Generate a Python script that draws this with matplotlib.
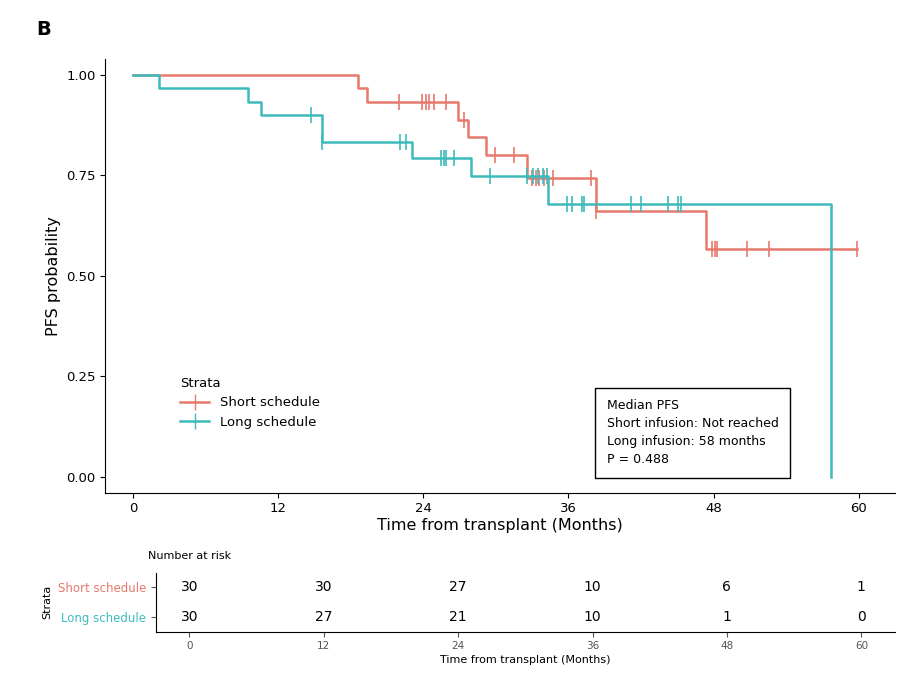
import numpy as np
import matplotlib.pyplot as plt

RED = "#E7786C"
TEAL = "#3DBBBC"

# step curves (time, survival after drop)
short_t = [0, 18.6, 19.3, 26.9, 27.7, 29.2, 32.6, 38.3, 47.4, 59.9]
short_s = [1.0, 0.967, 0.933, 0.889, 0.846, 0.80, 0.743, 0.662, 0.567, 0.567]
short_cens = [22.0, 23.9, 24.2, 24.5, 24.9, 25.9, 27.4, 29.9, 31.5, 33.0, 33.3, 33.6,
              34.0, 34.7, 37.9, 38.3, 47.9, 48.1, 48.3, 50.8, 52.6, 59.9]

long_t = [0, 2.1, 9.5, 10.6, 15.6, 23.1, 27.9, 34.3, 57.7]
long_s = [1.0, 0.967, 0.933, 0.90, 0.833, 0.794, 0.748, 0.68, 0.0]
long_cens = [14.7, 15.6, 22.1, 22.6, 25.5, 25.7, 25.9, 26.5, 29.5, 32.6, 33.1, 33.5,
             33.9, 34.2, 35.9, 36.3, 37.1, 37.3, 41.2, 42.0, 44.2, 45.1, 45.3]

risk_times = [0, 12, 24, 36, 48, 60]
risk_short = [30, 30, 27, 10, 6, 1]
risk_long = [30, 27, 21, 10, 1, 0]


def surv_at(ts, ss, x):
    idx = np.searchsorted(ts, x, side="right") - 1
    return ss[idx]


fig = plt.figure(figsize=(9.16, 6.94), dpi=100)
ax = fig.add_axes([0.115, 0.29, 0.862, 0.625])

for ts, ss, cens, col, lab in [(short_t, short_s, short_cens, RED, "Short schedule"),
                               (long_t, long_s, long_cens, TEAL, "Long schedule")]:
    ax.step(ts, ss, where="post", color=col, lw=1.8, label=lab)
    cy = [surv_at(ts, ss, c) for c in cens]
    ax.plot(cens, cy, ls="none", marker="|", ms=12, mew=1.2, color=col)

ax.set_xlim(-2.3, 63)
ax.set_ylim(-0.04, 1.04)
ax.set_xticks([0, 12, 24, 36, 48, 60])
ax.set_yticks([0, 0.25, 0.5, 0.75, 1.0])
ax.set_yticklabels(["0.00", "0.25", "0.50", "0.75", "1.00"])
ax.set_xlabel("Time from transplant (Months)", fontsize=11.5, labelpad=2)
ax.set_ylabel("PFS probability", fontsize=11.5)
for s in ["top", "right"]:
    ax.spines[s].set_visible(False)
ax.tick_params(labelsize=9.5)

leg = ax.legend(loc="lower left", bbox_to_anchor=(0.08, 0.12), title="Strata",
                frameon=False, fontsize=9.5, title_fontsize=9.5, handlelength=2.2)
leg._legend_box.align = "left"
for h in leg.legend_handles:
    h.set_marker("|")
    h.set_markersize(12)

ax.text(0.635, 0.215, "Median PFS\nShort infusion: Not reached\nLong infusion: 58 months\nP = 0.488",
        transform=ax.transAxes, fontsize=9, va="top", linespacing=1.5,
        bbox=dict(boxstyle="square,pad=0.9", fc="white", ec="black", lw=1))

fig.text(0.04, 0.95, "B", fontsize=14, fontweight="bold")

# risk table
rt = fig.add_axes([0.17, 0.09, 0.807, 0.085])
rt.set_xlim(-3, 63)
rt.set_ylim(-0.5, 1.5)
for x, a, b in zip(risk_times, risk_short, risk_long):
    rt.text(x, 1, str(a), ha="center", va="center", fontsize=10)
    rt.text(x, 0, str(b), ha="center", va="center", fontsize=10)
rt.set_xticks(risk_times)
rt.tick_params(labelsize=7.5, colors="#555555")
rt.set_yticks([1, 0])
rt.set_yticklabels(["Short schedule", "Long schedule"], fontsize=8.5)
for lbl, col in zip(rt.get_yticklabels(), [RED, TEAL]):
    lbl.set_color(col)
rt.set_xlabel("Time from transplant (Months)", fontsize=8, labelpad=3)
rt.set_ylabel("Strata", fontsize=8)
for s in ["top", "right"]:
    rt.spines[s].set_visible(False)
rt.set_title("Number at risk", fontsize=8, loc="left", x=-0.01, pad=10)

fig.savefig("out.png", dpi=100)
